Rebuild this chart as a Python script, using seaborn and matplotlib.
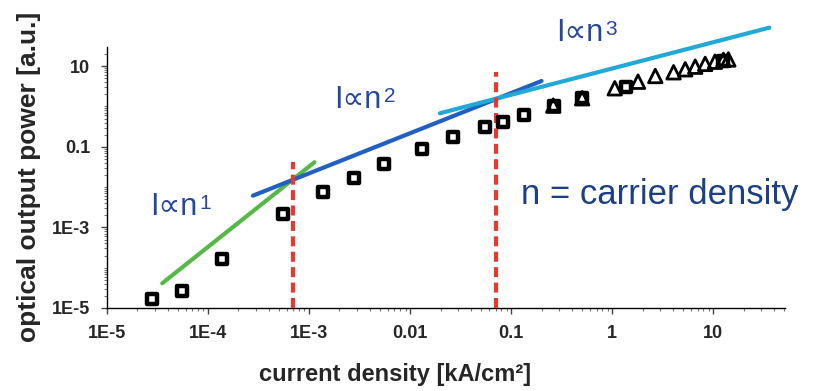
import numpy as np
import pandas as pd
import matplotlib
matplotlib.use("Agg")
import matplotlib.pyplot as plt
from matplotlib.ticker import FixedLocator, LogLocator, NullFormatter
import seaborn as sns

# ---- data ----
sq_x = [2.8e-5, 5.5e-5, 1.39e-4, 5.5e-4, 1.36e-3, 2.76e-3, 5.5e-3, 0.0132, 0.0268,
        0.055, 0.0836, 0.134, 0.268, 0.504, 1.37, 12.5]
sq_y = [1.64e-5, 2.6e-5, 1.64e-4, 2.1e-3, 7.4e-3, 0.0165, 0.037, 0.088, 0.178,
        0.305, 0.42, 0.615, 1.01, 1.65, 3.1, 13.8]
tri_x = [0.261, 0.504, 1.06, 1.80, 2.67, 4.05, 5.28, 6.63, 8.32, 10.4, 12.6, 14.1]
tri_y = [1.05, 1.60, 2.83, 4.12, 5.71, 7.06, 8.38, 9.72, 11.4, 12.9, 14.3, 14.7]

fit1_x = [3.52e-5, 1.13e-3]
fit1_y = [4.1e-5, 0.0412]
fit2_x = [2.78e-4, 0.2]
fit2_y = [6.12e-3, 4.29]
fit3_x = [0.0197, 35.9]
fit3_y = [0.678, 90.2]

vline_x = [6.9e-4, 0.0703]
vline_top = [0.0412, 7.3]

xticks = [1e-5, 1e-4, 1e-3, 1e-2, 1e-1, 1, 10]
xtick_labels = ["1E-5", "1E-4", "1E-3", "0.01", "0.1", "1", "10"]
yticks = [1e-5, 1e-3, 1e-1, 10]
ytick_labels = ["1E-5", "1E-3", "0.1", "10"]

fit_base = "I\u221dn"
fit_powers = ["1", "2", "3"]
note_text = "n = carrier density"
xlabel = "current density [kA/cm\u00b2]"
ylabel = "optical output power [a.u.]"

# ---- figure ----
sns.set_style("white")
plt.rcParams["font.family"] = ["Liberation Sans", "DejaVu Sans"]

fig = plt.figure(figsize=(8.15, 3.91), dpi=100)
ax = fig.add_axes([107 / 815, (391 - 308) / 391, (785 - 107) / 815, (308 - 47) / 391])
ax.set_xscale("log")
ax.set_yscale("log")
ax.set_xlim(1e-5, 51.3)
ax.set_ylim(1e-5, 29.9)

# fit lines
for fx, fy, col in [(fit1_x, fit1_y, "#55b947"), (fit2_x, fit2_y, "#2160c0"),
                    (fit3_x, fit3_y, "#22a9d6")]:
    sns.lineplot(x=fx, y=fy, ax=ax, color=col, linewidth=3.0, sort=False,
                 estimator=None, clip_on=False, zorder=2)

# red dashed separators
for vx, vt in zip(vline_x, vline_top):
    sns.lineplot(x=[vx, vx], y=[1e-5, vt], ax=ax, color="#e8392e", linewidth=3.0,
                 sort=False, estimator=None, linestyle=(0, (2.4, 1.3)), zorder=3)

# data markers
sns.scatterplot(x=sq_x, y=sq_y, ax=ax, marker="s", s=44, facecolor="white",
                edgecolor="black", linewidth=3.2, zorder=4, clip_on=False)
sns.scatterplot(x=tri_x, y=tri_y, ax=ax, marker="^", s=95, facecolor="none",
                edgecolor="black", linewidth=2.0, zorder=5, clip_on=False)

# axes styling
for side in ["top", "right"]:
    ax.spines[side].set_visible(False)
for side in ["left", "bottom"]:
    ax.spines[side].set_color("black")
    ax.spines[side].set_linewidth(1.0)

ax.xaxis.set_major_locator(FixedLocator(xticks))
ax.set_xticklabels(xtick_labels)
ax.yaxis.set_major_locator(FixedLocator(yticks))
ax.set_yticklabels(ytick_labels)
ax.xaxis.set_minor_locator(LogLocator(base=10, subs=np.arange(2, 10), numticks=20))
ax.yaxis.set_minor_locator(LogLocator(base=10, subs=np.arange(1, 10), numticks=20))
ax.xaxis.set_minor_formatter(NullFormatter())
ax.yaxis.set_minor_formatter(NullFormatter())
ax.tick_params(axis="both", which="both", bottom=True, left=True)
ax.tick_params(axis="both", which="major", direction="out", length=4, width=1,
               color="#444444", labelsize=13, pad=8)
ax.tick_params(axis="both", which="minor", direction="out", length=2.5, width=0.8,
               color="#777777")
for lab in ax.get_xticklabels() + ax.get_yticklabels():
    lab.set_fontweight("bold")

ax.set_xlabel(xlabel, fontsize=17, fontweight="bold")
ax.set_ylabel(ylabel, fontsize=19, fontweight="bold")
ax.xaxis.set_label_coords((395 - 107) / 678, (308 - 363) / 261)
ax.yaxis.set_label_coords((41 - 107) / 678, (308 - 177) / 261)

# annotations
txt_col = "#25489c"
label_pos = [(2.65e-5, 3.2e-3), (1.78e-3, 1.45), (0.277, 66.7)]
for (lx, ly), p in zip(label_pos, fit_powers):
    base = ax.text(lx, ly, fit_base, fontsize=22, color=txt_col, ha="left", va="center")
    ax.annotate(p, xy=(1.0, 0.93), xycoords=base, ha="left", va="top",
                fontsize=15, color=txt_col, xytext=(1.5, 0), textcoords="offset points")
ax.text(0.125, 6.4e-3, note_text, fontsize=25, color="#1c3f85", ha="left", va="center")

fig.savefig("out.png", dpi=100)
